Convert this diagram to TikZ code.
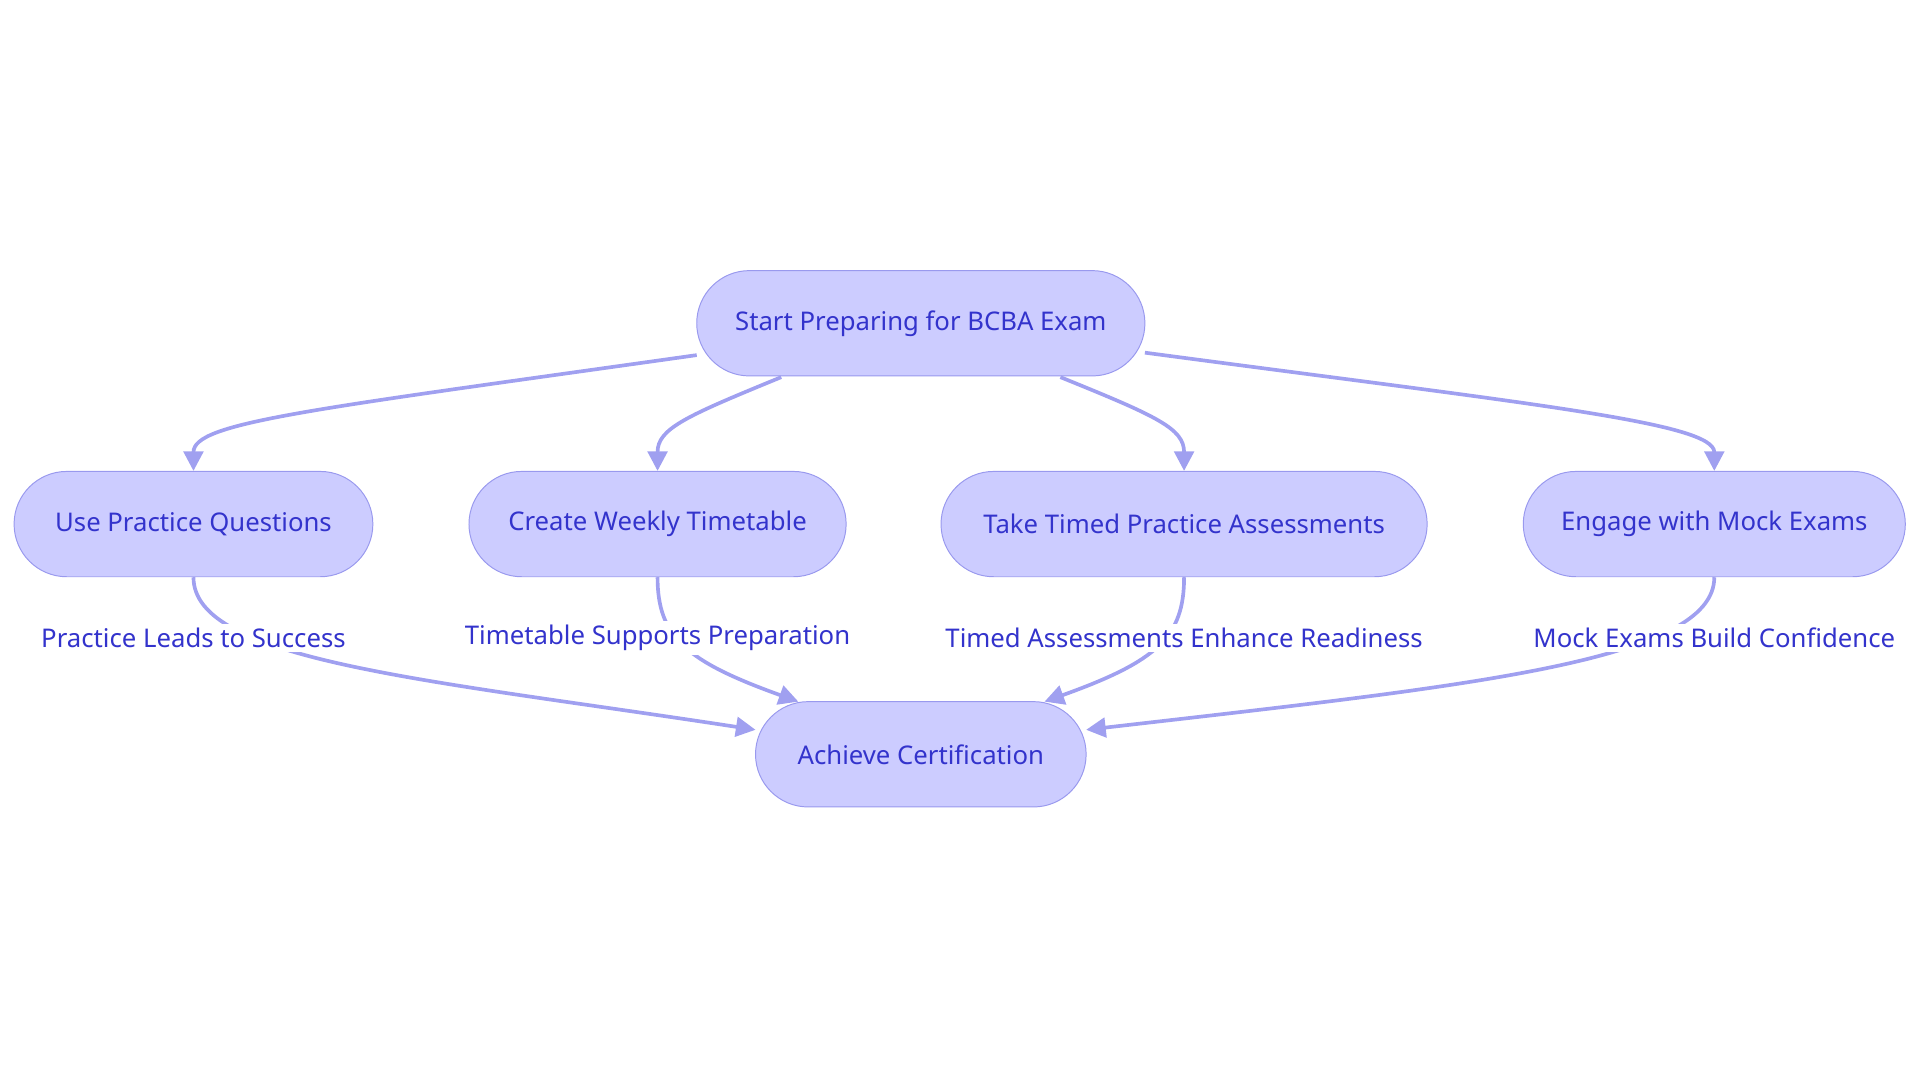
\documentclass[tikz,border=0pt]{standalone}
\usepackage{fontspec}
\setmainfont{Noto Sans}
\usetikzlibrary{arrows.meta}
\definecolor{nfill}{HTML}{CCCCFF}
\definecolor{nline}{HTML}{9999EE}
\definecolor{ntext}{HTML}{3333CC}
\definecolor{eline}{HTML}{A0A0F0}
\begin{document}
\begin{tikzpicture}[x=0.5pt,y=-0.5pt,
  box/.style={draw=nline,fill=nfill,rounded corners=21.5pt,minimum height=43pt,text=ntext,font=\fontsize{10.5}{12}\selectfont,inner sep=0pt},
  lab/.style={fill=white,text=ntext,font=\fontsize{10.5}{12}\selectfont,inner sep=1.5pt},
  e/.style={draw=eline,line width=1.5pt,-{Triangle[length=8pt,width=8pt]}}]
\useasboundingbox (0,0) rectangle (1568,884);
\node[box,minimum width=183pt] (s) at (752,264) {Start Preparing for BCBA Exam};
\node[box,minimum width=146.5pt] (a) at (158,428) {Use Practice Questions};
\node[box,minimum width=154pt] (b) at (537,428) {Create Weekly Timetable};
\node[box,minimum width=198.5pt] (c) at (967,428) {Take Timed Practice Assessments};
\node[box,minimum width=156pt] (d) at (1400,428) {Engage with Mock Exams};
\node[box,minimum width=135pt] (f) at (752,616) {Achieve Certification};
\coordinate (s1) at (569,290); \coordinate (s2) at (638,308);
\coordinate (s3) at (866,308); \coordinate (s4) at (935,288);
\draw[e] (s1) .. controls (250,335) and (158,345) .. (a.north);
\draw[e] (s2) .. controls (560,340) and (537,350) .. (b.north);
\draw[e] (s3) .. controls (945,340) and (967,350) .. (c.north);
\draw[e] (s4) .. controls (1250,330) and (1400,345) .. (d.north);
\coordinate (f1) at (617,596); \coordinate (f2) at (652,573);
\coordinate (f3) at (853,573); \coordinate (f4) at (887,596);
\draw[e] (a.south) .. controls (158,540) and (350,555) .. (f1);
\draw[e] (b.south) .. controls (537,520) and (560,540) .. (f2);
\draw[e] (c.south) .. controls (967,520) and (945,540) .. (f3);
\draw[e] (d.south) .. controls (1400,540) and (1200,560) .. (f4);
\node[lab] (la) at (158,521) {Practice Leads to Success};
\node[lab] (lb) at (537,521) {Timetable Supports Preparation};
\node[lab] (lc) at (967,521) {Timed Assessments Enhance Readiness};
\node[lab] (ld) at (1400,521) {Mock Exams Build Confidence};
\end{tikzpicture}
\end{document}
